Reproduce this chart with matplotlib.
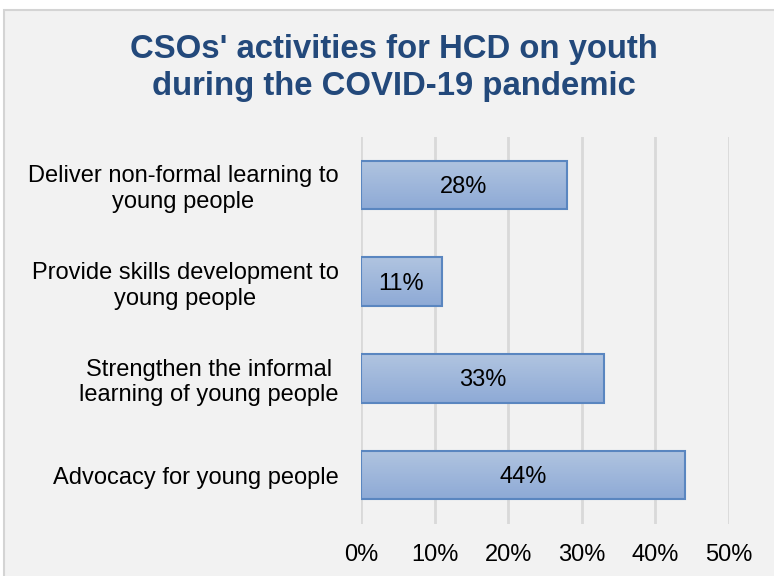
import numpy as np
import matplotlib.pyplot as plt
from matplotlib.patches import Rectangle

# activity labels, listed top to bottom
activities = [
    "Deliver non-formal learning to\nyoung people",
    "Provide skills development to\nyoung people",
    "Strengthen the informal\nlearning of young people",
    "Advocacy for young people",
]
shares = [28, 11, 33, 44]
xticks = [0, 10, 20, 30, 40, 50]
xtick_labels = ["0%", "10%", "20%", "30%", "40%", "50%"]

plt.rcParams['font.family'] = ['Liberation Sans', 'DejaVu Sans']

fig = plt.figure(figsize=(7.74, 5.76), dpi=100)
fig.patch.set_facecolor("white")

# grey chart panel with thin border
panel = Rectangle((4 / 774, -0.01), 1.0, 1 - 10 / 576 + 0.01,
                  transform=fig.transFigure, facecolor="#f2f2f2",
                  edgecolor="#d4d4d4", linewidth=1.5, zorder=-10)
fig.patches.append(panel)

ax = fig.add_axes([361 / 774, 1 - 523.5 / 576, 368 / 774, 387 / 576])
ax.set_facecolor("none")

ypos = np.arange(len(activities))[::-1]
bars = ax.barh(ypos, shares, height=0.5, facecolor="none",
               edgecolor="#5a86c0", linewidth=1.5, zorder=3)

# vertical gradient fill inside each bar, lighter at the top
grad = np.linspace(0, 1, 64).reshape(-1, 1)
cmap = plt.matplotlib.colors.LinearSegmentedColormap.from_list(
    "barfill", ["#b0c4e0", "#8eaad6"])
for b in bars:
    x0, y0 = b.get_x(), b.get_y()
    w, h = b.get_width(), b.get_height()
    im = ax.imshow(grad, extent=(x0, x0 + w, y0, y0 + h), cmap=cmap,
                   aspect="auto", zorder=2, origin="upper")
    im.set_clip_path(b)

for y, v in zip(ypos, shares):
    ax.text(v / 2, y - 0.02, f"{v}%", ha="center", va="center",
            fontsize=17, color="black", zorder=4)

ax.set_xlim(0, 50)
ax.set_ylim(-0.5, len(activities) - 0.5)
ax.set_xticks(xticks)
ax.set_xticklabels(xtick_labels, fontsize=17)
ax.set_yticks(ypos)
ax.set_yticklabels(activities, fontsize=17)
for t in ax.get_yticklabels():
    t.set_multialignment("center")
ax.tick_params(axis="x", length=0, pad=15)
ax.tick_params(axis="y", length=0, pad=16)

ax.grid(axis="x", color="#d9d9d9", linewidth=2, zorder=0)
ax.set_axisbelow(True)
for s in ax.spines.values():
    s.set_visible(False)

fig.text(394 / 774, 1 - 68 / 576,
         "CSOs' activities for HCD on youth\nduring the COVID-19 pandemic",
         ha="center", va="center", fontsize=23.7, fontweight="bold",
         color="#23497b", linespacing=1.28)

fig.savefig("out.png", dpi=100)
